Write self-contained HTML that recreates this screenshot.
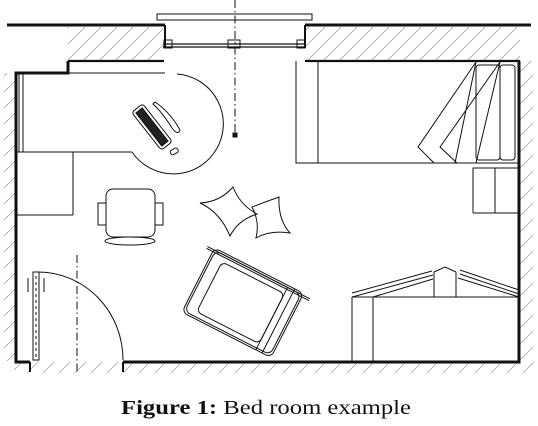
<!DOCTYPE html>
<html><head><meta charset="utf-8"><style>
html,body{margin:0;padding:0;background:#fff;width:538px;height:426px;overflow:hidden}
svg{display:block}
.c{font-family:"Liberation Serif",serif;font-size:20px;fill:#111}
</style></head><body>
<svg width="538" height="426" viewBox="0 0 538 426" fill="none" stroke="#111" stroke-width="1">
<defs>
<pattern id="h" width="16" height="16" patternUnits="userSpaceOnUse"><path d="M0 16L16 0" stroke="#999" stroke-width="0.7"/></pattern>
</defs>
<g>
<rect x="68" y="27" width="95" height="34" fill="url(#h)" stroke="none"/>
<rect x="305" y="27" width="215" height="34" fill="url(#h)" stroke="none"/>
<rect x="4" y="73" width="12" height="288" fill="url(#h)" stroke="none"/>
<rect x="519" y="61" width="14" height="300" fill="url(#h)" stroke="none"/>
<rect x="14" y="362" width="520" height="11" fill="url(#h)" stroke="none"/>
<path d="M7 25H165M305 25H531" stroke-width="3"/>
<path d="M68 61H164M305 61H520" stroke-width="2.2"/>
<path d="M68 61V73H16V362H30M123 362H519V61" stroke-width="3"/>
<path d="M165 25V48M305 25V48" stroke-width="2"/>
</g>
<g>
<rect x="157" y="14" width="155" height="6"/>
<path d="M163 44H305M163 47H305" stroke-width="1.2"/>
<rect x="164" y="40" width="8" height="8"/><rect x="228" y="40" width="12" height="8"/><rect x="297" y="40" width="8" height="8"/>
<path d="M235 0V135" stroke-dasharray="8 3 1.5 3"/>
<rect x="233" y="133" width="4" height="4" fill="#111"/>
</g>
<g>
<path d="M68 73H165M19 74V152M23 74V152M17 152H132M73 152V215M17 215H73"/>
<path d="M177 74A50 50 0 1 1 132 152"/>
<g transform="rotate(52 152 127)">
<rect x="128" y="120" width="48" height="14" rx="3"/>
<rect x="131" y="123" width="42" height="8" fill="#222"/>
</g>
<path d="M155 102Q170 112 180 130Q178 136 172 128Q162 112 153 104Z"/>
<rect x="170" y="149" width="8" height="5" rx="2" transform="rotate(-30 174 151)"/>
</g>
<g>
<rect x="106" y="189" width="49" height="48" rx="7"/>
<rect x="98" y="203" width="8" height="22"/><rect x="155" y="203" width="8" height="22"/>
<ellipse cx="130" cy="241" rx="25" ry="4"/>
</g>
<g>
<path d="M200 203Q220 202 233 187Q240 205 257 214Q238 220 230 236Q220 212 200 203Z"/>
<path d="M252 207Q265 202 279 197Q278 220 290 233Q270 230 256 238Q260 222 252 207Z"/>
</g>
<g transform="rotate(27 245 305)">
<rect x="192" y="268" width="100" height="72" rx="6"/>
<rect x="194" y="270" width="96" height="68" rx="6"/>
<rect x="205" y="277" width="70" height="56" rx="5"/>
<path d="M275 270V340M282 268V340"/>
<path d="M185 270H300M185 272H300"/>
</g>
<g>
<rect x="33" y="272" width="6" height="88"/>
<path d="M36 276V360" stroke-dasharray="3 3"/>
<path d="M28 278V292M44 278V292"/>
<path d="M38 272A85 88 0 0 1 123 360"/>
<path d="M77 255V372" stroke-dasharray="8 3 1.5 3"/>
<path d="M30 362V372M123 362V372" stroke-width="2"/>
</g>
<g>
<path d="M296 61V163H519M318 61V163"/>
<rect x="476" y="65" width="24" height="95" rx="3"/>
<rect x="500" y="65" width="15" height="95" rx="3"/>
<path d="M476 62L418 147L434 163M500 62L440 147L457 163M476 62L455 163M500 62L476 163"/>
</g>
<g>
<path d="M473 213V168H518M495 168V213M473 213H518"/>
</g>
<g>
<path d="M352 297H519M352 297V361M373 297V361"/>
<path d="M352 293L432 271M352 297L433 275M373 297L433 279"/>
<path d="M434 297V272M456 297V272M434 272L445 267L456 272"/>
<path d="M460 270L519 290M460 274L519 294M458 278L519 297"/>
</g>
<text class="c" x="121" y="414" textLength="290" lengthAdjust="spacingAndGlyphs" stroke="none"><tspan font-weight="bold">Figure 1:</tspan>  Bed room example</text>
</svg>
</body></html>
